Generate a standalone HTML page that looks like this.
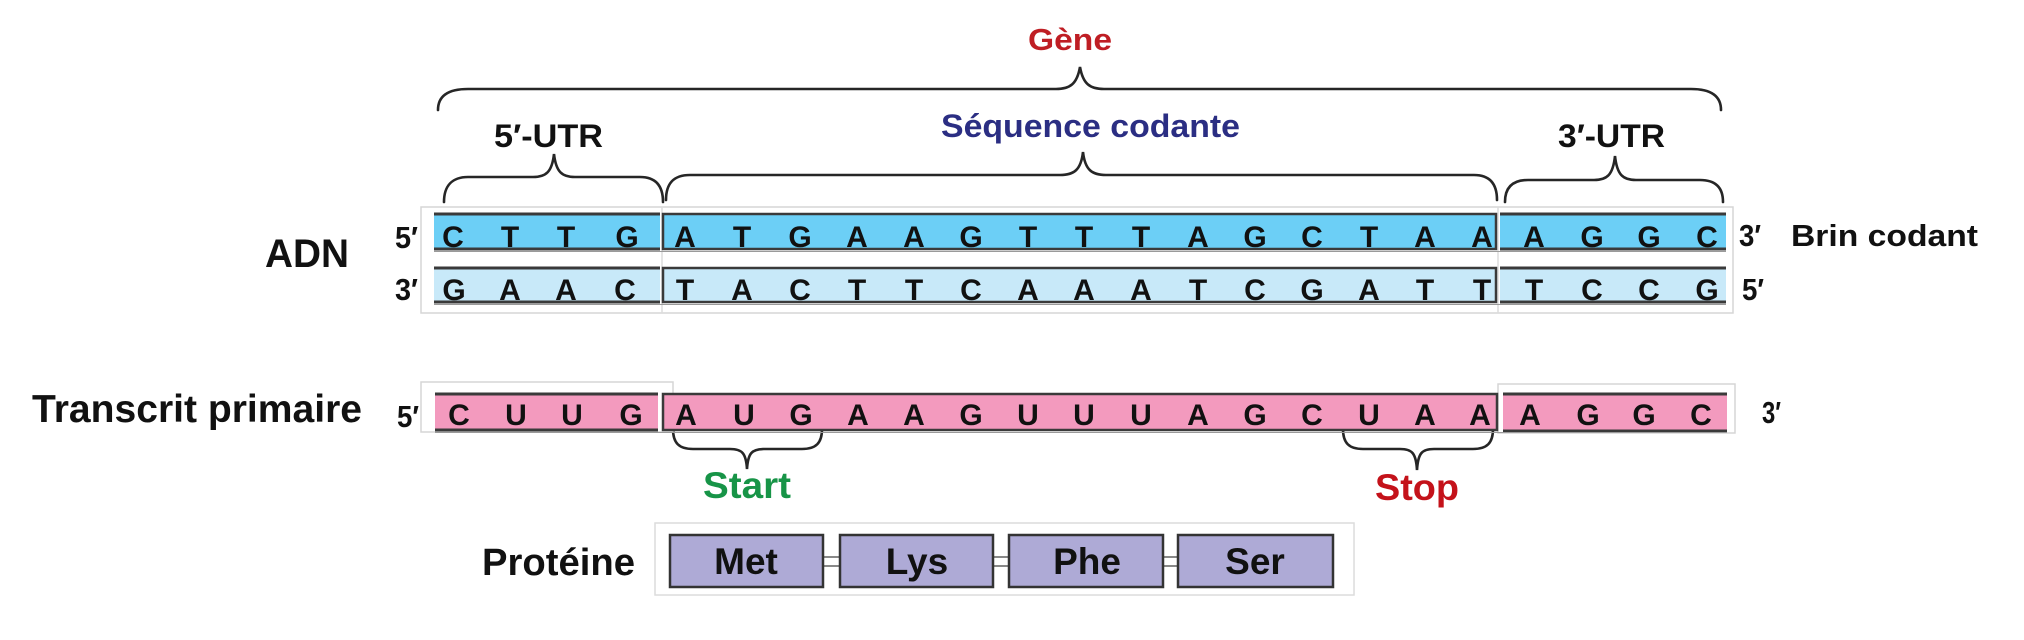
<!DOCTYPE html>
<html><head><meta charset="utf-8"><style>
html,body{margin:0;padding:0;background:#fff;}
svg{display:block;}
text{font-family:"Liberation Sans",Arial,sans-serif;font-weight:bold;}
</style></head><body>
<svg width="2024" height="640" viewBox="0 0 2024 640" xmlns="http://www.w3.org/2000/svg">
<!-- Braces -->
<g fill="none" stroke="#262626" stroke-width="2.6" stroke-linecap="round">
<path d="M438,110 C438,96 448,89 468,89 L1056,89 C1070,89 1077,84 1080,67 C1083,84 1090,89 1104,89 L1691,89 C1711,89 1721,96 1721,110"/>
<path d="M444,202 C444,186 452,177 468,177 L533,177 C546,177 552,172 554,154 C556,172 562,177 575,177 L640,177 C656,177 663,186 663,202"/>
<path d="M666,200 C666,184 673,175 690,175 L1060,175 C1074,175 1081,170 1083,152 C1085,170 1092,175 1106,175 L1474,175 C1490,175 1497,184 1497,200"/>
<path d="M1505,202 C1505,188 1512,180 1528,180 L1594,180 C1607,180 1613,175 1615,156 C1617,175 1623,180 1636,180 L1700,180 C1716,180 1723,188 1723,202"/>
<path d="M673,429 C673,443 679,449 693,449 L730,449 C742,449 746,453 747,469 C748,453 752,449 764,449 L802,449 C816,449 822,443 822,429"/>
<path d="M1343,429 C1343,443 1349,449 1363,449 L1400,449 C1412,449 1416,453 1417,470 C1418,453 1422,449 1434,449 L1473,449 C1487,449 1493,443 1493,429"/>
</g>

<!-- Top labels -->
<text x="1028" y="50" font-size="31" fill="#bf1e24" textLength="84" lengthAdjust="spacingAndGlyphs">Gène</text>
<text x="494" y="147" font-size="32" fill="#111" textLength="109" lengthAdjust="spacingAndGlyphs">5′-UTR</text>
<text x="941" y="137" font-size="32" fill="#2b2e83" textLength="299" lengthAdjust="spacingAndGlyphs">Séquence codante</text>
<text x="1558" y="147" font-size="32" fill="#111" textLength="107" lengthAdjust="spacingAndGlyphs">3′-UTR</text>

<!-- DNA block -->
<rect x="421" y="207" width="1312" height="106" fill="#fff" stroke="#d6d6d6" stroke-width="1.5"/>
<line x1="662" y1="207" x2="662" y2="313" stroke="#dcdcdc" stroke-width="1.5"/>
<line x1="1498" y1="207" x2="1498" y2="313" stroke="#dcdcdc" stroke-width="1.5"/>

<!-- top strand -->
<rect x="434" y="214" width="226" height="35" fill="#6ccff6"/>
<rect x="663" y="214" width="833" height="35" fill="#6ccff6"/>
<rect x="1500" y="214" width="226" height="35" fill="#6ccff6"/>
<!-- bottom strand -->
<rect x="434" y="268" width="226" height="34" fill="#c8e9f9"/>
<rect x="663" y="268" width="833" height="34" fill="#c8e9f9"/>
<rect x="1500" y="268" width="226" height="34" fill="#c8e9f9"/>
<g stroke="#3a3a3a" stroke-width="3">
<line x1="434" y1="214" x2="660" y2="214"/><line x1="434" y1="249" x2="660" y2="249"/>
<line x1="1500" y1="214" x2="1726" y2="214"/><line x1="1500" y1="249" x2="1726" y2="249"/>
<line x1="434" y1="268" x2="660" y2="268"/><line x1="434" y1="302" x2="660" y2="302"/>
<line x1="1500" y1="268" x2="1726" y2="268"/><line x1="1500" y1="302" x2="1726" y2="302"/>
</g>
<g fill="none" stroke="#3a3a3a" stroke-width="2.5">
<rect x="663" y="214" width="833" height="35"/>
<rect x="663" y="268" width="833" height="34"/>
</g>
<g stroke="#9a9a9a" stroke-width="1">
<line x1="434" y1="251.5" x2="1726" y2="251.5"/>
<line x1="434" y1="304.5" x2="1726" y2="304.5"/>
</g>

<g font-size="30" fill="#111" text-anchor="middle">
<!-- top strand letters -->
<text x="453" y="247">C</text><text x="510" y="247">T</text><text x="566" y="247">T</text><text x="627" y="247">G</text>
<text x="685" y="247">A</text><text x="742" y="247">T</text><text x="800" y="247">G</text><text x="857" y="247">A</text><text x="914" y="247">A</text><text x="971" y="247">G</text><text x="1028" y="247">T</text><text x="1084" y="247">T</text><text x="1141" y="247">T</text><text x="1198" y="247">A</text><text x="1255" y="247">G</text><text x="1312" y="247">C</text><text x="1369" y="247">T</text><text x="1425" y="247">A</text><text x="1482" y="247">A</text>
<text x="1534" y="247">A</text><text x="1592" y="247">G</text><text x="1649" y="247">G</text><text x="1707" y="247">C</text>
<!-- bottom strand letters -->
<text x="454" y="300">G</text><text x="510" y="300">A</text><text x="566" y="300">A</text><text x="625" y="300">C</text>
<text x="685" y="300">T</text><text x="742" y="300">A</text><text x="800" y="300">C</text><text x="857" y="300">T</text><text x="914" y="300">T</text><text x="971" y="300">C</text><text x="1028" y="300">A</text><text x="1084" y="300">A</text><text x="1141" y="300">A</text><text x="1198" y="300">T</text><text x="1255" y="300">C</text><text x="1312" y="300">G</text><text x="1369" y="300">A</text><text x="1425" y="300">T</text><text x="1482" y="300">T</text>
<text x="1534" y="300">T</text><text x="1592" y="300">C</text><text x="1649" y="300">C</text><text x="1707" y="300">G</text>
</g>

<!-- DNA labels -->
<text x="265" y="267" font-size="40" fill="#111" textLength="84" lengthAdjust="spacingAndGlyphs">ADN</text>
<text x="395" y="248" font-size="31" fill="#111" textLength="23" lengthAdjust="spacingAndGlyphs">5′</text>
<text x="395" y="300" font-size="31" fill="#111" textLength="23" lengthAdjust="spacingAndGlyphs">3′</text>
<text x="1739" y="246" font-size="31" fill="#111" textLength="22" lengthAdjust="spacingAndGlyphs">3′</text>
<text x="1742" y="300" font-size="31" fill="#111" textLength="22" lengthAdjust="spacingAndGlyphs">5′</text>
<text x="1791" y="246" font-size="31" fill="#111" textLength="187" lengthAdjust="spacingAndGlyphs">Brin codant</text>

<!-- Transcript -->
<rect x="421" y="382" width="252" height="50" fill="#fff" stroke="#d6d6d6" stroke-width="1.5"/>
<rect x="1498" y="384" width="237" height="49" fill="#fff" stroke="#d6d6d6" stroke-width="1.5"/>
<rect x="435" y="394" width="223" height="36" fill="#f39abe"/>
<rect x="663" y="394" width="834" height="36" fill="#f39abe"/>
<rect x="1503" y="394" width="224" height="37" fill="#f39abe"/>
<g stroke="#3a3a3a" stroke-width="3">
<line x1="435" y1="394" x2="658" y2="394"/><line x1="435" y1="430" x2="658" y2="430"/>
<line x1="1503" y1="394" x2="1727" y2="394"/><line x1="1503" y1="431" x2="1727" y2="431"/>
</g>
<rect x="663" y="394" width="834" height="36" fill="none" stroke="#3a3a3a" stroke-width="2.5"/>
<g stroke="#9a9a9a" stroke-width="1">
<line x1="435" y1="432.5" x2="1727" y2="432.5"/>
</g>
<g font-size="30" fill="#111" text-anchor="middle">
<text x="459" y="425">C</text><text x="516" y="425">U</text><text x="572" y="425">U</text><text x="631" y="425">G</text>
<text x="686" y="425">A</text><text x="744" y="425">U</text><text x="801" y="425">G</text><text x="858" y="425">A</text><text x="914" y="425">A</text><text x="971" y="425">G</text><text x="1028" y="425">U</text><text x="1084" y="425">U</text><text x="1141" y="425">U</text><text x="1198" y="425">A</text><text x="1255" y="425">G</text><text x="1312" y="425">C</text><text x="1369" y="425">U</text><text x="1425" y="425">A</text><text x="1480" y="425">A</text>
<text x="1530" y="425">A</text><text x="1588" y="425">G</text><text x="1644" y="425">G</text><text x="1701" y="425">C</text>
</g>
<text x="32" y="422" font-size="39" fill="#111" textLength="330" lengthAdjust="spacingAndGlyphs">Transcrit primaire</text>
<text x="397" y="427" font-size="31" fill="#111" textLength="22" lengthAdjust="spacingAndGlyphs">5′</text>
<text x="1762" y="423" font-size="31" fill="#111" textLength="19" lengthAdjust="spacingAndGlyphs">3′</text>

<text x="703" y="498" font-size="37" fill="#179447" textLength="88" lengthAdjust="spacingAndGlyphs">Start</text>
<text x="1375" y="500" font-size="37" fill="#c4121a" textLength="84" lengthAdjust="spacingAndGlyphs">Stop</text>

<!-- Protein -->
<text x="482" y="575" font-size="38" fill="#111" textLength="153" lengthAdjust="spacingAndGlyphs">Protéine</text>
<rect x="655" y="523" width="699" height="72" fill="#fff" stroke="#dcdcdc" stroke-width="1.5"/>
<g stroke="#888" stroke-width="2">
<line x1="823" y1="557" x2="839" y2="557"/><line x1="823" y1="566" x2="839" y2="566"/>
<line x1="993" y1="557" x2="1008" y2="557"/><line x1="993" y1="566" x2="1008" y2="566"/>
<line x1="1163" y1="557" x2="1177" y2="557"/><line x1="1163" y1="566" x2="1177" y2="566"/>
</g>
<g fill="#aeaad6" stroke="#333" stroke-width="2.5">
<rect x="670" y="535" width="153" height="52"/>
<rect x="840" y="535" width="153" height="52"/>
<rect x="1009" y="535" width="154" height="52"/>
<rect x="1178" y="535" width="155" height="52"/>
</g>
<g font-size="37" fill="#111" text-anchor="middle">
<text x="746" y="574">Met</text>
<text x="917" y="574">Lys</text>
<text x="1087" y="574">Phe</text>
<text x="1255" y="574">Ser</text>
</g>
</svg>
</body></html>
